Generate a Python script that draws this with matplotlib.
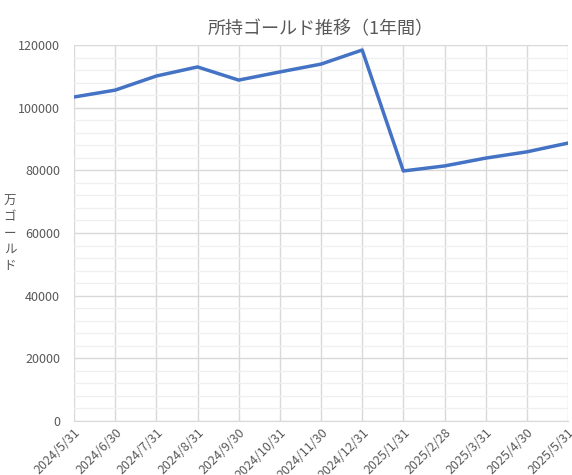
import matplotlib
matplotlib.use("Agg")
import matplotlib.pyplot as plt
from matplotlib.ticker import MultipleLocator

plt.rcParams['font.family'] = ['Noto Sans CJK JP', 'DejaVu Sans']

dates = ["2024/5/31","2024/6/30","2024/7/31","2024/8/31","2024/9/30","2024/10/31","2024/11/30",
         "2024/12/31","2025/1/31","2025/2/28","2025/3/31","2025/4/30","2025/5/31"]
gold = [103400,105600,110100,113000,108800,111400,113900,118400,79800,81400,83900,85900,88700]

fig = plt.figure(figsize=(5.72,4.75), dpi=100)
ax = fig.add_axes([74/572, 1-421/475, (568-74)/572, (421-45)/475])
x = list(range(len(dates)))
ax.plot(x, gold, color="#4472C4", lw=2.5, zorder=3)
ax.set_xlim(0, len(dates)-1)
ax.set_ylim(0, 120000)
ax.yaxis.set_major_locator(MultipleLocator(20000))
ax.yaxis.set_minor_locator(MultipleLocator(4000))
ax.set_xticks(x)
ax.set_xticklabels(dates, rotation=45, ha="right", rotation_mode="anchor", fontsize=9, color="#595959")
ax.tick_params(axis="y", labelsize=9, colors="#595959", length=0, which="both", pad=10)
ax.tick_params(axis="x", length=0)
ax.grid(True, which="major", color="#D9D9D9", lw=1)
ax.grid(True, which="minor", axis="y", color="#F0F0F0", lw=1)
for s in ["top","right","left"]:
    ax.spines[s].set_visible(False)
ax.spines["bottom"].set_color("#D9D9D9")
ax.set_title("所持ゴールド推移（1年間）", fontsize=13, color="#595959", pad=8)
fig.text(10/572, 1-233/475, "万\nゴ\nー\nル\nド", fontsize=9, color="#595959", ha="center", va="center", linespacing=1.3)
fig.savefig("out.png", dpi=100)
